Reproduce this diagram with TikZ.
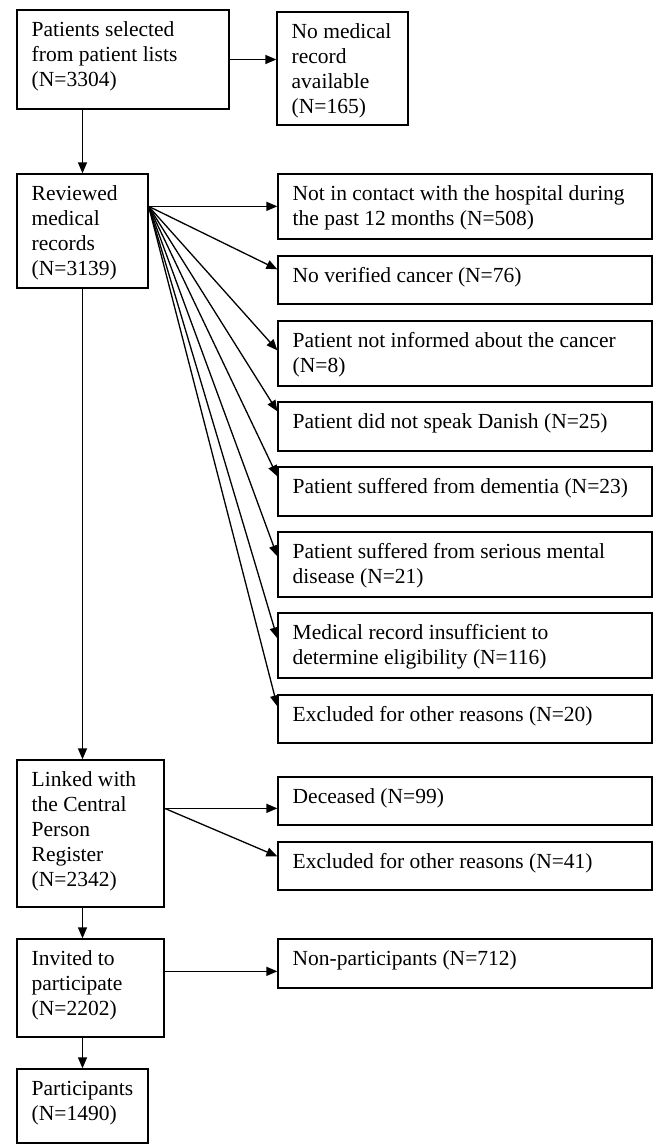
\documentclass[tikz,border=0pt]{standalone}
\usepackage{fontspec}
\setmainfont{Liberation Serif}
\usetikzlibrary{arrows.meta}
\tikzset{
  boxsty/.style={draw=black, line width=1.3pt, inner sep=0pt, fill=white},
  arr/.style={line width=1.3pt, -{Triangle[length=11pt,width=9pt]}}
}
\newcommand\bx[6]{%
  \node[boxsty] (#1) at ({(#2+#4)/2},{(#3+#5)/2})
  {\parbox[c][\dimexpr#5pt-#3pt\relax][t]{\dimexpr#4pt-#2pt\relax}{%
   \fontsize{21.5pt}{25pt}\selectfont\raggedright\leftskip=14.7pt
   \rule{0pt}{26pt}#6}};}
\begin{document}
\begin{tikzpicture}[x=1pt,y=-1pt]
\useasboundingbox (0,0) rectangle (653,1144);
% left column
\bx{b1}{17}{10}{229}{109}{Patients selected\\from patient lists\\(N=3304)}
\bx{b2}{17}{174}{148}{288}{Reviewed\\medical\\records\\(N=3139)}
\bx{b3}{17}{760}{164}{907}{Linked with\\the Central\\Person\\Register\\(N=2342)}
\bx{b4}{17}{939}{164}{1037}{Invited to\\participate\\(N=2202)}
\bx{b5}{17}{1069}{148}{1143}{Participants\\(N=1490)}
% right column
\bx{b1r}{277}{12}{408}{125}{No medical\\record\\available\\(N=165)}
\bx{r1}{278}{174}{652}{239}{Not in contact with the hospital during\\the past 12 months (N=508)}
\bx{r2}{278}{256}{652}{304}{No verified cancer (N=76)}
\bx{r3}{278}{321}{652}{386}{Patient not informed about the cancer\\(N=8)}
\bx{r4}{278}{402}{652}{451}{Patient did not speak Danish (N=25)}
\bx{r5}{278}{467}{652}{516}{Patient suffered from dementia (N=23)}
\bx{r6}{278}{532}{652}{597}{Patient suffered from serious mental\\disease (N=21)}
\bx{r7}{278}{613}{652}{678}{Medical record insufficient to\\determine eligibility (N=116)}
\bx{r8}{278}{695}{652}{743}{Excluded for other reasons (N=20)}
\bx{d1}{278}{777}{652}{825}{Deceased (N=99)}
\bx{d2}{278}{842}{652}{890}{Excluded for other reasons (N=41)}
\bx{n1}{278}{939}{652}{988}{Non-participants (N=712)}
% main flow
\draw[arr] (b1.east) -- (b1.east -| b1r.west);
\draw[arr] (b1.south -| b2.north) -- (b2.north);
\draw[arr] (b2.south) -- (b2.south |- b3.north);
\draw[arr] (b2.south |- b3.south) -- (b2.south |- b4.north);
\draw[arr] (b5.north |- b4.south) -- (b5.north);
% fan from reviewed
\coordinate (fan) at ([yshift=-33pt]b2.north east);
\draw[arr] (fan) -- ([yshift=-33pt]r1.north west);
\draw[arr] (fan) -- ([yshift=-14pt]r2.north west);
\draw[arr] (fan) -- ([yshift=-30pt]r3.north west);
\draw[arr] (fan) -- ([yshift=-10pt]r4.north west);
\draw[arr] (fan) -- ([yshift=-10pt]r5.north west);
\draw[arr] (fan) -- ([yshift=-25pt]r6.north west);
\draw[arr] (fan) -- ([yshift=-26pt]r7.north west);
\draw[arr] (fan) -- ([yshift=-12pt]r8.north west);
% from linked
\coordinate (lk) at ([yshift=-49pt]b3.north east);
\draw[arr] (lk) -- ([yshift=-32pt]d1.north west);
\draw[arr] (lk) -- ([yshift=-15pt]d2.north west);
% from invited
\coordinate (iv) at ([yshift=-33pt]b4.north east);
\draw[arr] (iv) -- (iv -| n1.west);
\end{tikzpicture}
\end{document}
